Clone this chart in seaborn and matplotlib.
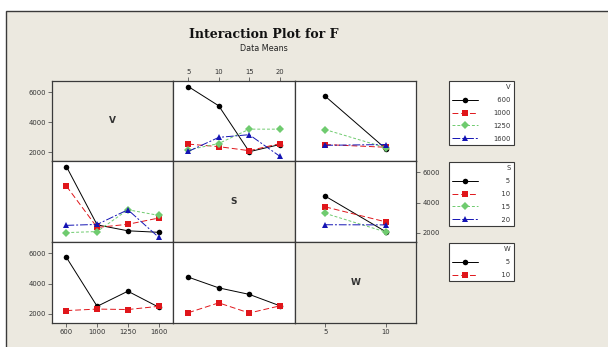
import matplotlib
matplotlib.use("Agg")
import matplotlib.pyplot as plt
from matplotlib.lines import Line2D
from matplotlib.patches import Rectangle
import pandas as pd
import seaborn as sns

V_LEVELS = [600, 1000, 1250, 1600]
S_LEVELS = [5, 10, 15, 20]
W_LEVELS = [5, 10]

# data means of F, rows = first factor, cols = second factor
F_V_S = [
    [6380, 5090, 2020, 2500],
    [2530, 2360, 2090, 2560],
    [2140, 2570, 3530, 3530],
    [2040, 2980, 3160, 1720],
]
F_V_W = [
    [5730, 2220],
    [2500, 2320],
    [3500, 2290],
    [2450, 2500],
]
F_S_W = [
    [4430, 2080],
    [3720, 2730],
    [3290, 2060],
    [2540, 2530],
]

BEIGE = "#ECE9E0"
FRAME = "#3A3A3A"
COLORS = ["#000000", "#E0161B", "#6FCB6F", "#1414B4"]
MARKERS = ["o", "s", "D", "^"]
DASHES = ["", (6, 3), (3, 2), (8, 2, 2, 2)]

W_PX, H_PX = 608, 347
COL_EDGES = [52, 173, 295, 416]
ROW_EDGES = [81, 161, 242, 323]
YLIM = (1400, 6750)
XLIMS = {"V": (-0.47, 3.47), "S": (2.5, 22.5), "W": (2.5, 12.5)}
LEVELS = {"V": V_LEVELS, "S": S_LEVELS, "W": W_LEVELS}


def long_frame(table, row_name, col_name):
    rows = []
    for i, r in enumerate(LEVELS[row_name]):
        for j, c in enumerate(LEVELS[col_name]):
            rows.append({row_name: r, col_name: c, "F": table[i][j]})
    df = pd.DataFrame(rows)
    if "V" in df:
        df["V_pos"] = df["V"].map({v: k for k, v in enumerate(V_LEVELS)})
    return df


def xcol(name):
    return "V_pos" if name == "V" else name


def draw_cell(ax, df, hue, x):
    levels = [str(v) for v in LEVELS[hue]]
    d = df.copy()
    d[hue] = d[hue].astype(str)
    n = len(levels)
    sns.lineplot(
        data=d, x=xcol(x), y="F", hue=hue, style=hue,
        hue_order=levels, style_order=levels,
        palette=dict(zip(levels, COLORS[:n])),
        markers=dict(zip(levels, MARKERS[:n])),
        dashes=dict(zip(levels, DASHES[:n])),
        linewidth=0.7, markersize=4, markeredgewidth=0,
        errorbar=None, legend=False, ax=ax,
    )


def px_axes(fig, col, row):
    x0, x1 = COL_EDGES[col], COL_EDGES[col + 1]
    y0, y1 = ROW_EDGES[row], ROW_EDGES[row + 1]
    return fig.add_axes([x0 / W_PX, 1 - y1 / H_PX, (x1 - x0) / W_PX, (y1 - y0) / H_PX])


sns.set_style("ticks")
plt.rcParams["font.family"] = ["DejaVu Sans"]

fig = plt.figure(figsize=(W_PX / 100, H_PX / 100), dpi=100, facecolor="white")
fig.add_artist(Rectangle((6 / W_PX, -0.1), 1.2, 1.1 - 11 / H_PX, transform=fig.transFigure,
                         facecolor=BEIGE, edgecolor=FRAME, linewidth=1.0, zorder=-1))

factors = ["V", "S", "W"]
tables = {("V", "S"): F_V_S, ("V", "W"): F_V_W, ("S", "W"): F_S_W}

for r, rf in enumerate(factors):
    for c, cf in enumerate(factors):
        ax = px_axes(fig, c, r)
        for sp in ax.spines.values():
            sp.set_visible(True)
            sp.set_color(FRAME)
            sp.set_linewidth(0.9)
        ax.tick_params(length=3, width=0.6, color="#555555", labelsize=4.9,
                       labelcolor="#333333", pad=1.5,
                       left=False, right=False, bottom=False, top=False,
                       labelleft=False, labelright=False, labelbottom=False, labeltop=False)
        if r == c:
            ax.set_facecolor(BEIGE)
            ax.text(0.5, 0.5, rf, transform=ax.transAxes, ha="center", va="center",
                    fontsize=6.5, fontweight="bold", color="#333333")
        else:
            ax.set_facecolor("white")
            key = (rf, cf) if (rf, cf) in tables else (cf, rf)
            df = long_frame(tables[key], key[0], key[1])
            draw_cell(ax, df, rf, cf)
        ax.set_xlim(*XLIMS[cf])
        ax.set_ylim(*YLIM)
        ax.set_xlabel("")
        ax.set_ylabel("")
        ax.set_yticks([2000, 4000, 6000])
        if cf == "V":
            ax.set_xticks(range(len(V_LEVELS)), [str(v) for v in V_LEVELS])
        else:
            ax.set_xticks(LEVELS[cf], [str(v) for v in LEVELS[cf]])
        if c == 0 and r in (0, 2):
            ax.tick_params(left=True, labelleft=True)
        if r == 1 and c == 2:
            ax.tick_params(right=True, labelright=True)
        if r == 0 and c == 1:
            ax.tick_params(top=True, labeltop=True)
        if r == 2 and c in (0, 2):
            ax.tick_params(bottom=True, labelbottom=True)

# legends: labels padded with figure spaces so the numbers sit right-aligned
leg_tops = [81, 162, 243]
for k, name in enumerate(factors):
    n = len(LEVELS[name])
    handles = [Line2D([], [], color=COLORS[i], marker=MARKERS[i], markersize=4,
                      markeredgewidth=0, linewidth=0.7,
                      linestyle="-" if DASHES[i] == "" else (0, DASHES[i]))
               for i in range(n)]
    labels = [str(v).rjust(4, "\u2007") for v in LEVELS[name]]
    leg = fig.legend(handles, labels, title=name,
                     loc="upper left",
                     bbox_to_anchor=(449 / W_PX, 1 - leg_tops[k] / H_PX),
                     bbox_transform=fig.transFigure, alignment="right",
                     fontsize=4.9, title_fontsize=4.9, handlelength=3.7,
                     handletextpad=2.3, labelspacing=1.0, borderpad=0.5,
                     frameon=True, fancybox=False, framealpha=1,
                     facecolor="white", edgecolor=FRAME, borderaxespad=0)
    leg.get_frame().set_linewidth(0.8)
    for t in leg.get_texts():
        t.set_color("#333333")
    leg.get_title().set_color("#333333")

fig.text(264 / W_PX, 1 - 34 / H_PX, "Interaction Plot for F", ha="center", va="center",
         fontsize=9, fontweight="bold", family=["DejaVu Serif"], color="#111111")
fig.text(264 / W_PX, 1 - 48.5 / H_PX, "Data Means", ha="center", va="center",
         fontsize=5.8, color="#222222")

fig.savefig("out.png", dpi=100, facecolor="white")
